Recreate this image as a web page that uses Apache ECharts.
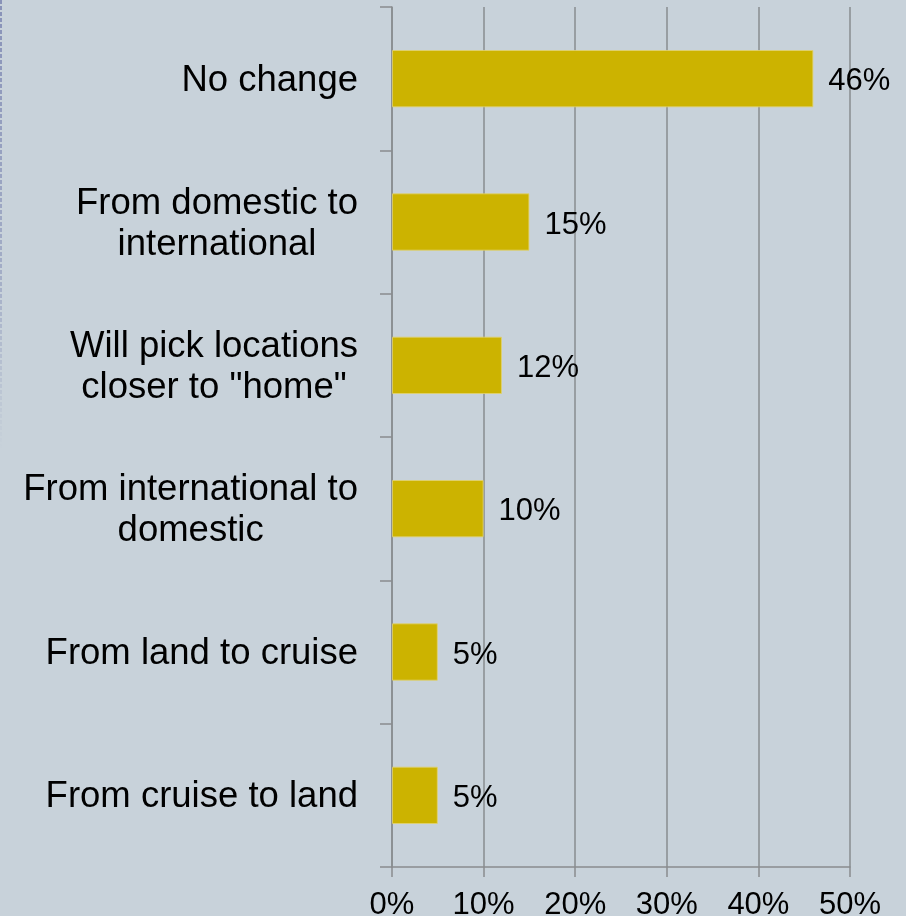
<!DOCTYPE html>
<html>
<head>
<meta charset="utf-8">
<style>
  html, body { margin: 0; padding: 0; background: #C8D2DA; }
  #chart { width: 906px; height: 916px; }
</style>
<script src="https://cdn.jsdelivr.net/npm/echarts@6/dist/echarts.min.js"></script>
</head>
<body>
<div id="chart"></div>
<script>
// Survey answers: how travel destinations will change
const categories = [
  'No change',
  'From domestic to\ninternational',
  'Will pick locations\ncloser to "home"',
  'From international to\ndomestic',
  'From land to cruise',
  'From cruise to land'
];
const shares = [46, 15, 12, 10, 5, 5];
const axisTicks = [0, 10, 20, 30, 40, 50];

const gridGray = '#898C8F';
const font = 'Liberation Sans, Arial, sans-serif';

const chart = echarts.init(document.getElementById('chart'), null, { renderer: 'canvas' });

chart.setOption({
  backgroundColor: '#C8D2DA',
  animation: false,
  graphic: [{
    type: 'line',
    shape: { x1: 1, y1: 0, x2: 1, y2: 450 },
    style: {
      stroke: {
        type: 'linear', x: 0, y: 0, x2: 0, y2: 1,
        colorStops: [
          { offset: 0, color: 'rgba(110,120,170,0.95)' },
          { offset: 0.6, color: 'rgba(110,120,170,0.55)' },
          { offset: 1, color: 'rgba(110,120,170,0)' }
        ]
      },
      lineWidth: 1.5,
      lineDash: [4, 2]
    },
    silent: true
  }],
  grid: { left: 392, right: 56, top: 7, bottom: 49, containLabel: false, outerBoundsMode: 'none' },
  xAxis: {
    type: 'value',
    min: axisTicks[0],
    max: axisTicks[axisTicks.length - 1],
    interval: axisTicks[1] - axisTicks[0],
    axisLine: { show: true, lineStyle: { color: gridGray, width: 1.5 } },
    axisTick: { show: true, length: 10, lineStyle: { color: gridGray, width: 1.5 } },
    splitLine: { show: true, lineStyle: { color: gridGray, width: 1.5 } },
    axisLabel: {
      formatter: '{value}%',
      fontFamily: font,
      fontSize: 31,
      color: '#000',
      margin: 23
    }
  },
  yAxis: {
    type: 'category',
    data: categories,
    inverse: true,
    axisLine: { show: true, lineStyle: { color: gridGray, width: 1.5 } },
    axisTick: { show: true, length: 12, alignWithLabel: false, lineStyle: { color: gridGray, width: 1.5 } },
    splitLine: { show: false },
    axisLabel: {
      margin: 34,
      align: 'right',
      padding: [4, 0, 0, 0],
      formatter: function (v) {
        return v.split('\n').map(function (l) { return '{c|' + l + '}'; }).join('\n');
      },
      rich: {
        c: {
          align: 'center',
          fontFamily: font,
          fontSize: 36.5,
          lineHeight: 41,
          color: '#000'
        }
      }
    }
  },
  series: [{
    type: 'bar',
    data: shares,
    barCategoryGap: '60%',
    itemStyle: { color: '#CCB300', borderColor: 'rgba(225,210,110,0.8)', borderWidth: 1 },
    label: {
      show: true,
      position: 'right',
      distance: 15,
      offset: [0, 3],
      formatter: '{c}%',
      fontFamily: font,
      fontSize: 31,
      color: '#000'
    }
  }]
});
</script>
</body>
</html>
